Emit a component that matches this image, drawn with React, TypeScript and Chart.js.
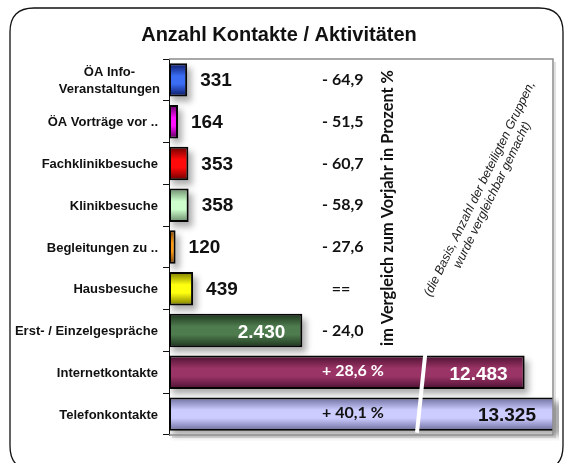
import React, { useEffect, useRef } from "react";
import { Chart, registerables } from "chart.js";

Chart.register(...registerables);

const categories: (string | string[])[] = [
  ["ÖA Info-", "Veranstaltungen"],
  "ÖA Vorträge vor ..",
  "Fachklinikbesuche",
  "Klinikbesuche",
  "Begleitungen zu ..",
  "Hausbesuche",
  "Erst- / Einzelgespräche",
  "Internetkontakte",
  "Telefonkontakte",
];
const contactCounts = [331, 164, 353, 358, 120, 439, 2430, 12483, 13325];
const changeVsPrevYear: (number | null)[] = [-64.9, -51.5, -60.7, -58.9, -27.6, null, -24.0, 28.6, 40.1];
const barColors = ["#3a6cf4", "#ff10ff", "#ff0a0a", "#ccffcc", "#ff9a10", "#ffff10", "#4f7c4f", "#9a3466", "#ccccff"];
const barShades = ["#0a1660", "#5c005c", "#6a0000", "#6a8a6a", "#7a4000", "#7a7a00", "#1c341c", "#4a1030", "#6a6a9a"];

const chartTitle = "Anzahl Kontakte / Aktivitäten";
const sideTitle = "im Vergleich zum Vorjahr in Prozent %";
const noteLines = ["(die Basis, Anzahl der beteiligten Gruppen,", "wurde vergleichbar gemacht)"];

const axisMax = 7000;
const breakStart = 4550;
const breakGap = 6000;
const changeColumnValue = 2790;

const plottedCounts = contactCounts.map((v) => (v > breakStart ? v - breakGap : v));

function fmtCount(v: number) {
  return String(v).replace(/\B(?=(\d{3})+(?!\d))/g, ".");
}
function fmtChange(v: number | null) {
  if (v === null) return "==";
  const s = Math.abs(v).toFixed(1).replace(".", ",");
  return v < 0 ? "- " + s : "+ " + s + " %";
}
function isLight(hex: string) {
  const r = parseInt(hex.slice(1, 3), 16), g = parseInt(hex.slice(3, 5), 16), b = parseInt(hex.slice(5, 7), 16);
  return 0.299 * r + 0.587 * g + 0.114 * b > 170;
}

const decorPlugin = {
  id: "decor",
  beforeDraw(chart: any) {
    const { ctx, width, height } = chart;
    ctx.save();
    ctx.fillStyle = "#ffffff";
    ctx.fillRect(0, 0, width, height);
    ctx.strokeStyle = "#111";
    ctx.lineWidth = 1.3;
    ctx.beginPath();
    const x = 10, y = 8, w = 553, h = 462, r = 24;
    ctx.moveTo(x + r, y);
    ctx.lineTo(x + w - r, y);
    ctx.quadraticCurveTo(x + w, y, x + w, y + r);
    ctx.lineTo(x + w, y + h - r);
    ctx.quadraticCurveTo(x + w, y + h, x + w - r, y + h);
    ctx.lineTo(x + r, y + h);
    ctx.quadraticCurveTo(x, y + h, x, y + h - r);
    ctx.lineTo(x, y + r);
    ctx.quadraticCurveTo(x, y, x + r, y);
    ctx.stroke();
    ctx.fillStyle = "#111";
    ctx.font = "bold 20px 'Liberation Sans', Arial, sans-serif";
    ctx.textAlign = "center";
    ctx.textBaseline = "alphabetic";
    ctx.fillText(chartTitle, 279, 41);
    ctx.restore();
  },
  beforeDatasetsDraw(chart: any) {
    const { ctx } = chart;
    const meta = chart.getDatasetMeta(0);
    const ca = chart.chartArea;
    ctx.save();
    ctx.beginPath();
    ctx.rect(ca.left, ca.top - 2, ca.right - ca.left + 6, ca.bottom - ca.top + 8);
    ctx.clip();
    ctx.filter = "blur(3px)";
    ctx.fillStyle = "rgba(0,0,0,0.32)";
    meta.data.forEach((bar: any) => {
      const p = bar.getProps(["x", "y", "base", "height"], true);
      ctx.fillRect(p.base + 3, p.y - p.height / 2 + 5, p.x - p.base + 1, p.height);
    });
    ctx.restore();
  },
  afterDatasetsDraw(chart: any) {
    const { ctx, chartArea: ca, scales } = chart;
    const xs = scales.x, ys = scales.y;
    const meta = chart.getDatasetMeta(0);
    ctx.save();
    ctx.strokeStyle = "rgba(0,0,0,0.12)";
    ctx.lineWidth = 2;
    ctx.beginPath();
    ctx.moveTo(ca.right + 2, ca.top + 3);
    ctx.lineTo(ca.right + 2, ca.bottom + 2);
    ctx.lineTo(ca.left + 3, ca.bottom + 2);
    ctx.stroke();
    ctx.strokeStyle = "#8c8c8c";
    ctx.lineWidth = 1.5;
    ctx.beginPath();
    ctx.moveTo(ca.left, ca.top);
    ctx.lineTo(ca.right, ca.top);
    ctx.lineTo(ca.right, ca.bottom);
    ctx.lineTo(ca.left, ca.bottom);
    ctx.stroke();

    const bars = meta.data;
    const topBar = bars[bars.length - 2].getProps(["y", "height"], true);
    const botBar = bars[bars.length - 1].getProps(["y", "height"], true);
    ctx.strokeStyle = "#ffffff";
    ctx.lineWidth = 4;
    ctx.beginPath();
    ctx.moveTo(xs.getPixelForValue(breakStart + 120), topBar.y - topBar.height / 2 - 1);
    ctx.lineTo(xs.getPixelForValue(breakStart - 30), botBar.y + botBar.height / 2 + 2);
    ctx.stroke();

    ctx.fillStyle = "#111";
    ctx.font = "bold 13px 'Liberation Sans', Arial, sans-serif";
    ctx.textBaseline = "middle";
    const labelRight = ca.left - 11;
    categories.forEach((lab, i) => {
      const yc = ys.getPixelForValue(i);
      if (Array.isArray(lab)) {
        const mw = Math.max(...lab.map((l) => ctx.measureText(l).width));
        const cx = labelRight + 2 - mw / 2;
        ctx.textAlign = "center";
        const lh = 17;
        lab.forEach((l, k) => ctx.fillText(l, cx, yc + 1 + (k - (lab.length - 1) / 2) * lh));
      } else {
        ctx.textAlign = "right";
        ctx.fillText(lab, labelRight, yc + 1);
      }
    });

    ctx.font = "bold 19px 'Liberation Sans', Arial, sans-serif";
    contactCounts.forEach((v, i) => {
      const p = bars[i].getProps(["x", "y"], true);
      const end = Math.min(p.x, ca.right);
      const txt = fmtCount(v);
      if (plottedCounts[i] > 2000) {
        ctx.textAlign = "right";
        ctx.fillStyle = isLight(barColors[i]) ? "#111" : "#ffffff";
        ctx.fillText(txt, end - 17, p.y + 2);
      } else {
        ctx.textAlign = "left";
        ctx.fillStyle = "#111";
        ctx.fillText(txt, end + 13, p.y + 1);
      }
    });

    ctx.font = "bold 16px Lato, 'Open Sans', sans-serif";
    const cxPct = xs.getPixelForValue(changeColumnValue);
    changeVsPrevYear.forEach((v, i) => {
      const p = bars[i].getProps(["x", "y"], true);
      const onBar = p.x > cxPct;
      ctx.fillStyle = onBar ? (isLight(barColors[i]) ? "#111" : "#ffffff") : "#111";
      const txt = fmtChange(v);
      if (v === null) {
        ctx.textAlign = "center";
        ctx.fillText(txt, cxPct + 19, p.y);
      } else {
        ctx.textAlign = "left";
        ctx.fillText(txt, cxPct, p.y - (onBar ? 1 : 0));
      }
    });

    ctx.save();
    ctx.fillStyle = "#111";
    let fs = 16;
    ctx.font = `bold ${fs}px Lato, 'Open Sans', sans-serif`;
    const w0 = ctx.measureText(sideTitle).width;
    fs = (fs * 276) / w0;
    ctx.font = `bold ${fs.toFixed(2)}px Lato, 'Open Sans', sans-serif`;
    ctx.translate(388, 208);
    ctx.rotate(-Math.PI / 2);
    ctx.textAlign = "center";
    ctx.textBaseline = "middle";
    ctx.fillText(sideTitle, 0, 0);
    ctx.restore();

    ctx.save();
    ctx.fillStyle = "#222";
    ctx.font = "italic 12.5px 'Liberation Sans', Arial, sans-serif";
    ctx.translate(486, 192);
    ctx.rotate((-64 * Math.PI) / 180);
    ctx.textAlign = "center";
    ctx.textBaseline = "middle";
    noteLines.forEach((l, k) => ctx.fillText(l, 0, (k - (noteLines.length - 1) / 2) * 14));
    ctx.restore();

    ctx.restore();
  },
};

export default function App() {
  const ref = useRef<HTMLCanvasElement | null>(null);
  useEffect(() => {
    if (!ref.current) return;
    const chart = new Chart(ref.current, {
      type: "bar",
      data: {
        labels: categories as any,
        datasets: [
          {
            data: plottedCounts,
            backgroundColor: (c: any) => {
              const i = c.dataIndex ?? 0;
              const chart = c.chart;
              const ys = chart.scales?.y;
              if (!ys || !chart.chartArea) return barColors[i];
              const yc = ys.getPixelForValue(i);
              const h = ((ys.bottom - ys.top) / categories.length) * 0.4;
              const g = chart.ctx.createLinearGradient(0, yc - h, 0, yc + h);
              g.addColorStop(0, barShades[i]);
              g.addColorStop(0.38, barColors[i]);
              g.addColorStop(0.62, barColors[i]);
              g.addColorStop(1, barShades[i]);
              return g;
            },
            borderColor: "#050505",
            borderWidth: 2,
            borderSkipped: false,
            categoryPercentage: 1,
            barPercentage: 0.8,
          },
        ],
      },
      options: {
        indexAxis: "y",
        animation: false,
        responsive: true,
        maintainAspectRatio: false,
        layout: { padding: { left: 0, top: 59, right: 11, bottom: 28 } },
        plugins: { legend: { display: false }, tooltip: { enabled: false }, title: { display: false } },
        scales: {
          x: { display: false, min: 0, max: axisMax },
          y: {
            ticks: { display: false },
            grid: { drawOnChartArea: false, color: "#111", tickLength: 6, offset: true },
            border: { color: "#111", width: 1 },
            afterFit: (s: any) => {
              s.width = 169;
            },
          },
        },
      },
      plugins: [decorPlugin],
    });
    return () => chart.destroy();
  }, []);
  return (
    <div style={{ position: "fixed", left: 0, top: 0, width: 564, height: 463 }}>
      <canvas ref={ref} />
    </div>
  );
}
